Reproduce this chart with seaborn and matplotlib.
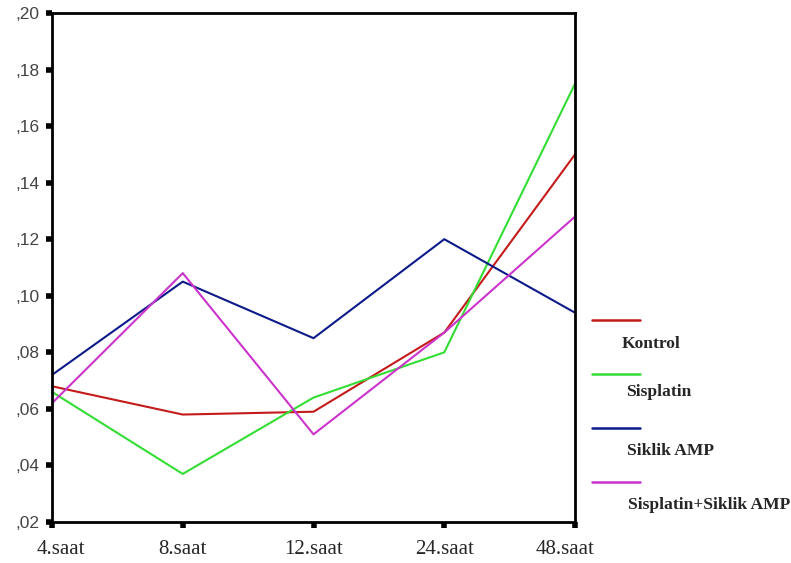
import matplotlib
matplotlib.use("Agg")
import matplotlib.pyplot as plt
from matplotlib.lines import Line2D
from matplotlib.ticker import FuncFormatter
from matplotlib.transforms import ScaledTranslation
import seaborn as sns
import pandas as pd

categories = ["4.saat", "8.saat", "12.saat", "24.saat", "48.saat"]
series_names = ["Kontrol", "Sisplatin", "Siklik AMP", "Sisplatin+Siklik AMP"]
kontrol = [0.068, 0.058, 0.059, 0.087, 0.150]
sisplatin = [0.066, 0.037, 0.064, 0.080, 0.175]
siklik_amp = [0.072, 0.105, 0.085, 0.120, 0.094]
sisplatin_siklik = [0.062, 0.108, 0.051, 0.087, 0.128]
y_ticks = [0.02, 0.04, 0.06, 0.08, 0.10, 0.12, 0.14, 0.16, 0.18, 0.20]

colors = ["#c41a1a", "#33dd33", "#0c1a8a", "#cc33cc"]

rows = []
for name, vals in zip(series_names, [kontrol, sisplatin, siklik_amp, sisplatin_siklik]):
    for c, v in zip(categories, vals):
        rows.append({"time": c, "value": v, "group": name})
df = pd.DataFrame(rows)

sns.set_style("white")
fig = plt.figure(figsize=(7.91, 5.63), dpi=100)
ax = fig.add_axes([0.0657, 0.0728, 0.6613, 0.9042])

sns.lineplot(data=df, x="time", y="value", hue="group", hue_order=series_names,
             palette=colors, linewidth=1.5, ax=ax, legend=False, sort=False)

ax.set_xlim(0, len(categories) - 1)
ax.set_ylim(0.02, 0.20)
ax.set_yticks(y_ticks)
ax.yaxis.set_major_formatter(FuncFormatter(lambda v, p: ("%.2f" % v).lstrip("0").replace(".", ",")))
ax.set_xlabel("")
ax.set_ylabel("")
for s in ax.spines.values():
    s.set_color("black")
    s.set_linewidth(2)
ax.tick_params(axis="both", direction="out", length=4, width=4, color="black",
               left=True, bottom=True)
ax.tick_params(axis="y", labelsize=12.5, labelcolor="#444444", pad=5)
ax.tick_params(axis="x", labelsize=15, pad=9)
for lab in ax.get_yticklabels():
    lab.set_family("Liberation Sans")
xlabs = ax.get_xticklabels()
for lab in xlabs:
    lab.set_family("Liberation Serif")
xlabs[0].set_transform(xlabs[0].get_transform() + ScaledTranslation(9 / 100, 0, fig.dpi_scale_trans))
xlabs[-1].set_transform(xlabs[-1].get_transform() + ScaledTranslation(-10 / 100, 0, fig.dpi_scale_trans))

# custom legend: line above label
W, H = 791, 563
line_y = [320, 374, 428, 482]
text_x = [622, 626, 627, 628]
text_y = [344, 392, 451, 505]
for name, col, ly, tx, ty in zip(series_names, colors, line_y, text_x, text_y):
    fig.add_artist(Line2D([592 / W, 640 / W], [1 - ly / H, 1 - ly / H],
                          color=col, linewidth=1.8, transform=fig.transFigure))
    fig.text(tx / W, 1 - ty / H, name, family="Liberation Serif", fontweight="bold",
             fontsize=12.6, va="center", ha="left")

fig.savefig("out.png", dpi=100)
